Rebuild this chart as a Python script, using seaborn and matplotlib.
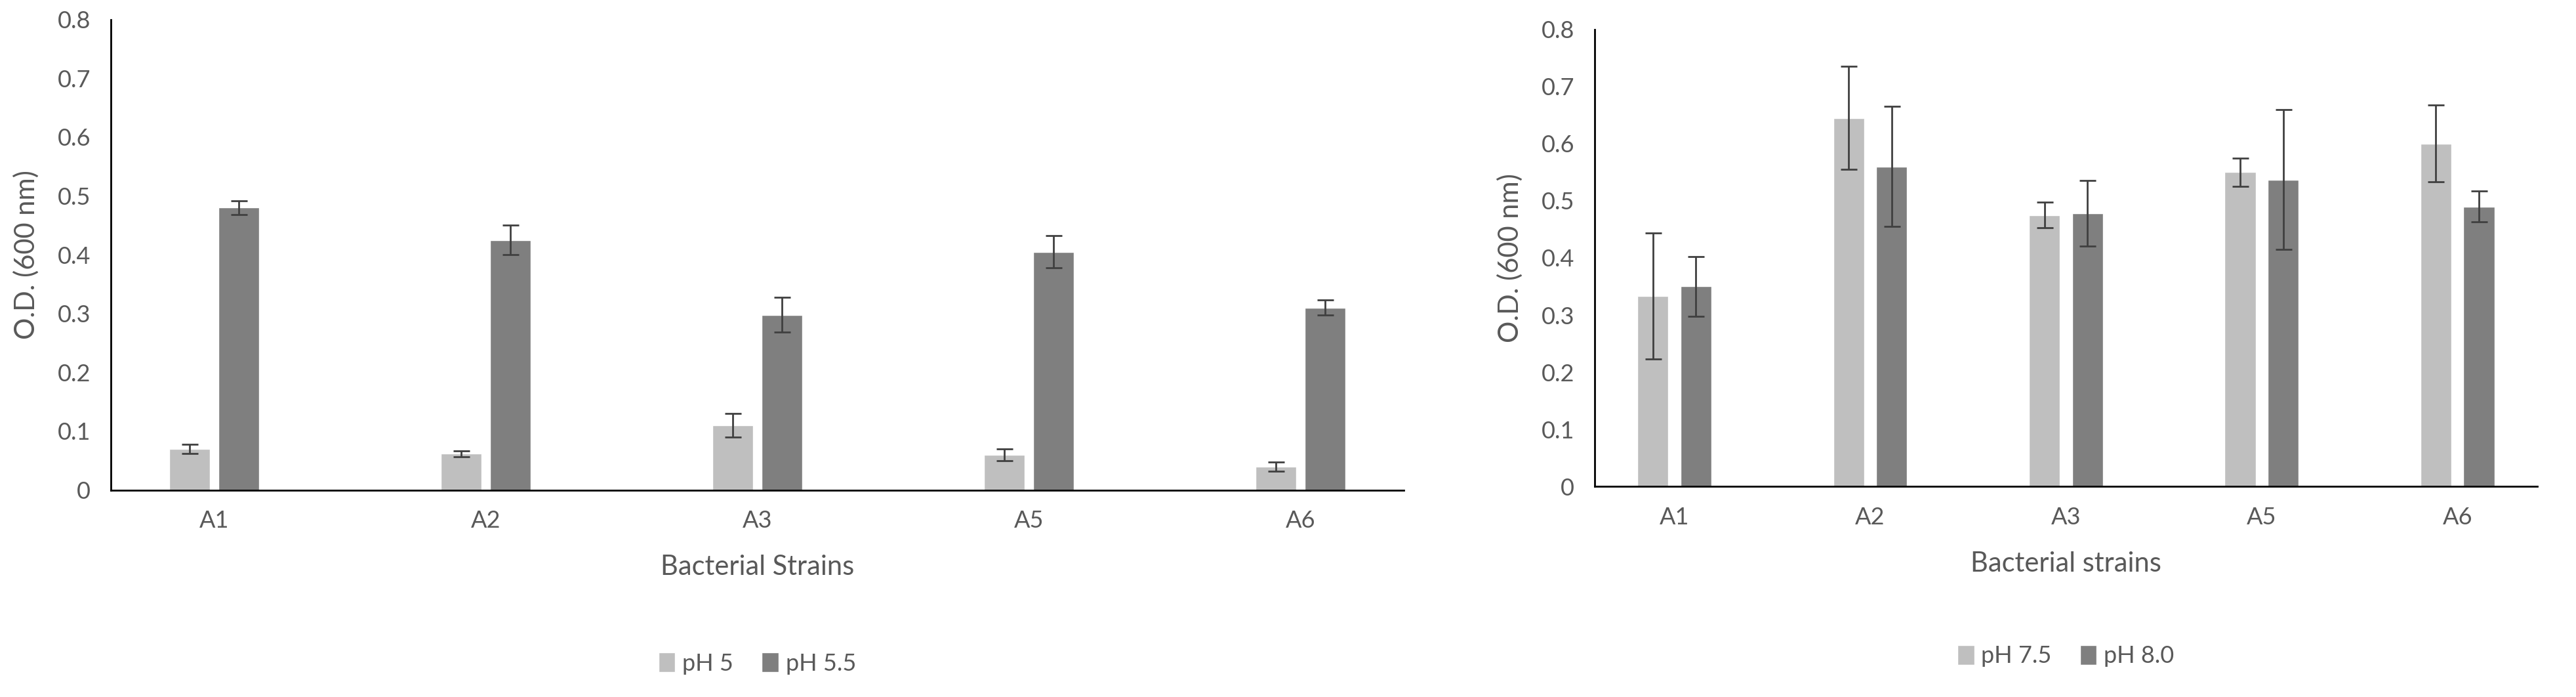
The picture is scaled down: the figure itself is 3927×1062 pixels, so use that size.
import numpy as np
import pandas as pd
import matplotlib.pyplot as plt
import seaborn as sns

#%% data
strains = ['A1', 'A2', 'A3', 'A5', 'A6']
ph5 = [0.070, 0.062, 0.110, 0.060, 0.040]
ph5_err = [0.008, 0.005, 0.020, 0.010, 0.008]
ph55 = [0.480, 0.425, 0.298, 0.405, 0.310]
ph55_err = [0.012, 0.025, 0.030, 0.027, 0.013]
ph75 = [0.333, 0.645, 0.475, 0.550, 0.600]
ph75_err = [0.110, 0.090, 0.022, 0.025, 0.067]
ph80 = [0.350, 0.560, 0.478, 0.537, 0.490]
ph80_err = [0.052, 0.105, 0.057, 0.122, 0.027]

sns.set_style('white')
plt.rcParams['font.family'] = ['Lato', 'DejaVu Sans']
TXT = '#595959'
colors = ['#bfbfbf', '#7f7f7f']

fig = plt.figure(figsize=(39.27, 10.62), dpi=100)
ax1 = fig.add_axes([0.043, 0.297, 0.502, 0.675])
ax2 = fig.add_axes([0.619, 0.302, 0.366, 0.656])


def draw(ax, names, vals, errs, xlabel, width, gap):
    df = pd.DataFrame({
        'strain': strains * 2,
        'od': vals[0] + vals[1],
        'ph': [names[0]] * 5 + [names[1]] * 5,
    })
    sns.barplot(data=df, x='strain', y='od', hue='ph', palette=colors,
                ax=ax, width=width, gap=gap, errorbar=None, saturation=1)
    # error bars on the bar centres
    bars = ax.patches[:10]
    errs_all = errs[0] + errs[1]
    for b, v, e in zip(bars, vals[0] + vals[1], errs_all):
        ax.errorbar(b.get_x() + b.get_width() / 2, v, yerr=e, fmt='none',
                    ecolor='#404040', elinewidth=2, capsize=9, capthick=2)
    ax.set_ylim(0, 0.8)
    ax.set_yticks(np.arange(0, 0.81, 0.1))
    ax.set_yticklabels(['0'] + [f'{t:.1f}' for t in np.arange(0.1, 0.81, 0.1)])
    ax.set_xlabel(xlabel, fontsize=30, color=TXT, labelpad=25)
    ax.set_ylabel('O.D. (600 nm)', fontsize=30, color=TXT, labelpad=20)
    ax.tick_params(axis='both', labelsize=26, colors=TXT, length=0, pad=22)
    sns.despine(ax=ax)
    ax.spines['left'].set_color('black')
    ax.spines['bottom'].set_color('black')
    ax.spines['left'].set_linewidth(2)
    ax.spines['bottom'].set_linewidth(2)
    ax.legend(loc='upper center', bbox_to_anchor=(0.5, -0.3), ncol=2,
              frameon=False, fontsize=26, handlelength=0.7, handleheight=0.9,
              handletextpad=0.3, columnspacing=1.2, labelcolor=TXT)


draw(ax1, ['pH 5', 'pH 5.5'], [ph5, ph55], [ph5_err, ph55_err],
     'Bacterial Strains', 0.36, 0.17)
draw(ax2, ['pH 7.5', 'pH 8.0'], [ph75, ph80], [ph75_err, ph80_err],
     'Bacterial strains', 0.44, 0.28)

fig.savefig('out.png', dpi=100)
